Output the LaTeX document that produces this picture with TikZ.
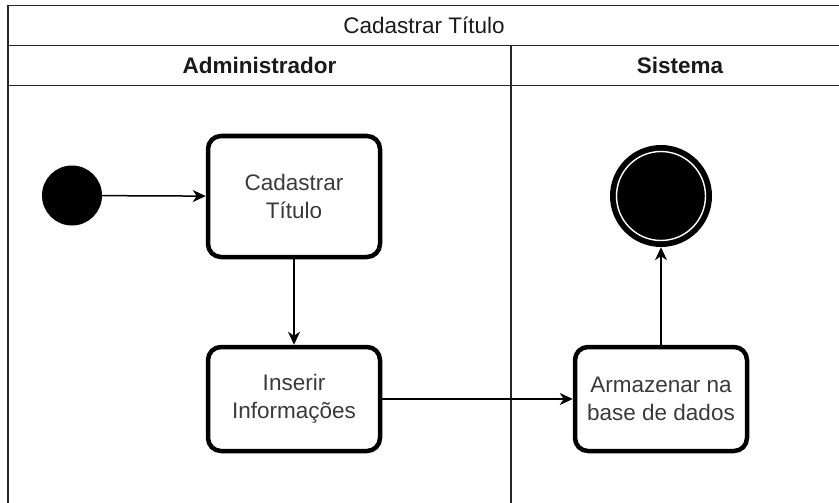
\documentclass[tikz,border=0pt]{standalone}
\usepackage{fontspec}
\setmainfont{Liberation Sans}
\usetikzlibrary{arrows.meta}
\definecolor{boxtext}{HTML}{3A3A3A}
\definecolor{headtext}{HTML}{1A1A1A}
\tikzset{
  frameline/.style={line width=1.6pt, draw=black!85},
  actbox/.style={draw=black, line width=4.5pt, rounded corners=13pt, fill=white,
    minimum width=172pt, align=center, text=boxtext,
    font=\fontsize{22.5}{28}\selectfont, inner sep=0pt},
  flow/.style={line width=1.5pt, -{Stealth[length=13pt,width=12pt,inset=4pt]}},
  headlabel/.style={font=\fontsize{22.5}{27}\selectfont\bfseries, text=headtext, inner sep=0pt},
  titlelabel/.style={font=\fontsize{22.5}{27}\selectfont, text=headtext, inner sep=0pt}
}
\begin{document}
\begin{tikzpicture}[x=1pt,y=-1pt]
\useasboundingbox (0,0) rectangle (839,503);
\clip (0,0) rectangle (839,503);
% pool frame
\draw[frameline] (860,5.5) -- (8,5.5) -- (8,520);
\draw[frameline] (8,45.5) -- (860,45.5);
\draw[frameline] (8,85.5) -- (860,85.5);
\draw[frameline] (511,45.5) -- (511,520);
% headers
\node[titlelabel] (title) at (424,25.5) {Cadastrar Título};
\node[headlabel] (hadm) at (259.5,65.5) {Administrador};
\node[headlabel] (hsis) at (680,65.5) {Sistema};
% nodes
\node[circle, fill=black, minimum size=60pt, inner sep=0pt] (start) at (72,195.5) {};
\node[actbox, minimum height=121pt] (cad) at (294,196.5) {Cadastrar\\Título};
\node[actbox, minimum height=104pt] (ins) at (294,399) {Inserir\\Informações};
\node[actbox, minimum height=104pt] (arm) at (661,399) {Armazenar na\\base de dados};
\node[circle, fill=black, minimum size=102pt, inner sep=0pt] (fim) at (661,196) {};
\draw[white, line width=1.4pt] (fim.center) circle (44.5pt);
% flows
\draw[flow] (start) -- (cad);
\draw[flow] (cad) -- (ins);
\draw[flow] (ins) -- (arm);
\draw[flow] (arm) -- (fim);
\end{tikzpicture}
\end{document}
